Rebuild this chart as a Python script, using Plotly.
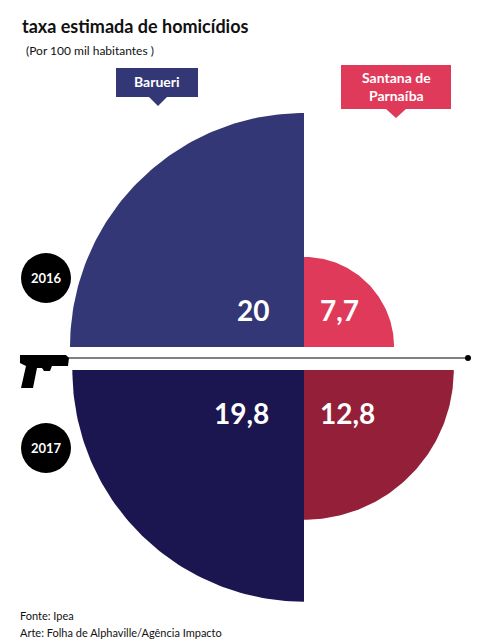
import numpy as np
import plotly.graph_objects as go

W, H = 493, 640
cities = ["Barueri", "Santana de<br>Parnaíba"]
years = ["2016", "2017"]
barueri = [20, 19.8]
santana = [7.7, 12.8]
labels_barueri = ["20", "19,8"]
labels_santana = ["7,7", "12,8"]
colors_barueri = ["#333775", "#1b1650"]
colors_santana = ["#e03a5a", "#931f38"]

U = 11.7          # pixels per unit of rate
CX, CY = 296, 339  # centre of the top half in pixels
GAP = 23 / U       # gap between 2016 and 2017 halves

def quarter(r, a0, a1, yc):
    t = np.linspace(a0, a1, 80)
    x = np.concatenate([[0], r * np.cos(t), [0]])
    y = np.concatenate([[yc], yc + r * np.sin(t), [yc]])
    return x, y

fig = go.Figure()
specs = [
    (barueri[0], np.pi / 2, np.pi, 0, colors_barueri[0]),
    (santana[0], 0, np.pi / 2, 0, colors_santana[0]),
    (barueri[1], np.pi, 1.5 * np.pi, -GAP, colors_barueri[1]),
    (santana[1], 1.5 * np.pi, 2 * np.pi, -GAP, colors_santana[1]),
]
for r, a0, a1, yc, c in specs:
    x, y = quarter(r, a0, a1, yc)
    fig.add_trace(go.Scatter(x=x, y=y, fill="toself", fillcolor=c, mode="lines",
                             line=dict(width=0), hoverinfo="skip", showlegend=False))

def px(x, y):
    return dict(x=x / W, y=1 - y / H, xref="paper", yref="paper")

ann = []
ann.append(dict(text="<b>taxa estimada de homicídios</b>", font=dict(size=18, color="#111"),
                xanchor="left", yanchor="middle", showarrow=False, **px(12, 18)))
ann.append(dict(text="(Por 100 mil habitantes )", font=dict(size=12, color="#111"),
                xanchor="left", yanchor="middle", showarrow=False, **px(16, 42)))
ann.append(dict(text="<b>Barueri</b>", font=dict(size=14, color="white"), showarrow=False,
                xanchor="center", yanchor="middle", **px(149, 74)))
ann.append(dict(text="<b>Santana de<br>Parnaíba</b>", font=dict(size=14, color="white"), showarrow=False,
                xanchor="center", yanchor="middle", **px(388, 79)))
for i, yv in enumerate(years):
    ann.append(dict(text="<b>%s</b>" % yv, font=dict(size=13, color="white"), showarrow=False,
                    xanchor="center", yanchor="middle", **px(38, [270, 440][i])))
for i in range(2):
    yy = [302, 405][i]
    ann.append(dict(text="<b>%s</b>" % labels_barueri[i], font=dict(size=28, color="white"), showarrow=False,
                    xanchor="right", yanchor="middle", **px(263, yy)))
    ann.append(dict(text="<b>%s</b>" % labels_santana[i], font=dict(size=28, color="white"), showarrow=False,
                    xanchor="left", yanchor="middle", **px(310, yy)))
ann.append(dict(text="Fonte: Ipea", font=dict(size=11, color="#111"), showarrow=False,
                xanchor="left", yanchor="middle", **px(10, 607)))
ann.append(dict(text="Arte: Folha de Alphaville/Agência Impacto", font=dict(size=11, color="#111"),
                showarrow=False, xanchor="left", yanchor="middle", **px(10, 624)))

def rect(x0, y0, x1, y1, color, kind="rect"):
    return dict(type=kind, xref="paper", yref="paper", x0=x0 / W, x1=x1 / W,
                y0=1 - y1 / H, y1=1 - y0 / H, fillcolor=color, line=dict(width=0))

def path(pts, color):
    d = "M " + " L ".join("%.4f,%.4f" % (x / W, 1 - y / H) for x, y in pts) + " Z"
    return dict(type="path", xref="paper", yref="paper", path=d, fillcolor=color, line=dict(width=0))

shapes = [
    rect(108, 60, 190, 89, "#333775"),
    path([(141, 89), (159, 89), (150, 98)], "#333775"),
    rect(333, 57, 443, 101, "#e03a5a"),
    path([(378, 101), (398, 101), (388, 110)], "#e03a5a"),
    rect(13, 245, 63, 295, "black", "circle"),
    rect(13, 415, 63, 465, "black", "circle"),
    dict(type="line", xref="paper", yref="paper", x0=58 / W, x1=460 / W,
         y0=1 - 350 / H, y1=1 - 350 / H, line=dict(color="black", width=1)),
    rect(457, 347, 463, 353, "black", "circle"),
    # pistol
    path([(12, 347), (58, 347), (61, 350), (60, 358), (44, 358), (42, 363), (36, 363),
          (34, 360), (29, 360), (25, 380), (13, 380), (18, 358), (12, 355)], "black"),
]

fig.update_layout(
    width=W, height=H, margin=dict(l=0, r=0, t=0, b=0),
    paper_bgcolor="white", plot_bgcolor="white",
    font=dict(family="Lato"),
    xaxis=dict(range=[-CX / U, (W - CX) / U], visible=False, fixedrange=True),
    yaxis=dict(range=[-(H - CY) / U, CY / U], visible=False, fixedrange=True),
    annotations=ann, shapes=shapes,
)
fig.write_html("out.html")
